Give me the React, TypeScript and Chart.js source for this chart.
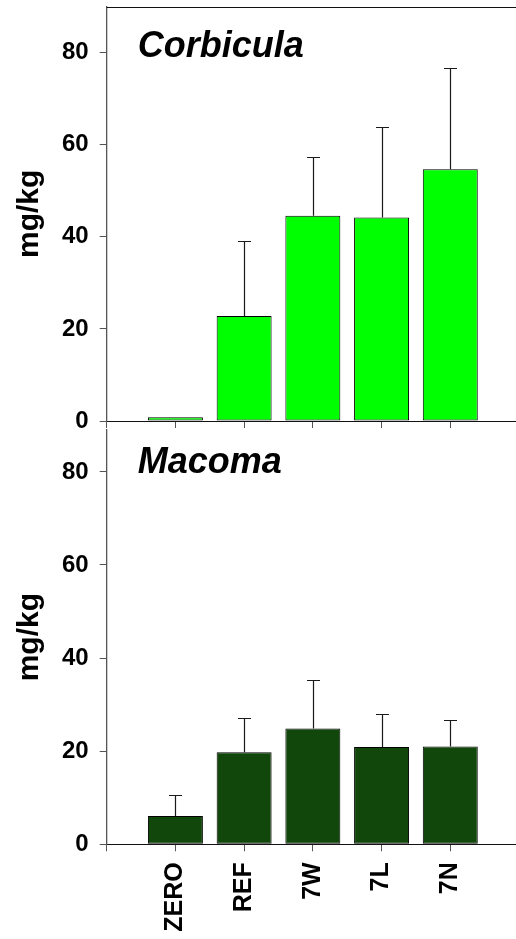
import React, { useEffect, useRef } from "react";
import { Chart, registerables } from "chart.js";

Chart.register(...registerables);

const categories = ["ZERO", "REF", "7W", "7L", "7N"];
const positions = [1, 2, 3, 4, 5];
const corbiculaMeans = [0.8, 22.8, 44.6, 44.2, 54.7];
const corbiculaErrors = [0, 16.3, 12.7, 19.6, 22.0];
const macomaMeans = [6.1, 19.8, 24.9, 20.9, 21.0];
const macomaErrors = [4.5, 7.4, 10.5, 7.1, 5.8];
const yTicks = [0, 20, 40, 60, 80];

const FONT = "'Liberation Sans', Arial, Helvetica, sans-serif";

const errorBarPlugin = {
  id: "errorBars",
  afterDatasetsDraw(chart: any) {
    const { ctx } = chart;
    const xs = chart.scales.x;
    const ys = chart.scales.y;
    chart.data.datasets.forEach((ds: any) => {
      const errs = ds.errors || [];
      ds.data.forEach((pt: any, i: number) => {
        const e = errs[i];
        if (!e) return;
        const x = Math.round(xs.getPixelForValue(pt.x)) + 0.5;
        const y0 = ys.getPixelForValue(pt.y);
        const y1 = Math.round(ys.getPixelForValue(pt.y + e)) + 0.5;
        ctx.save();
        ctx.strokeStyle = "#1a1a1a";
        ctx.lineWidth = 1.2;
        ctx.beginPath();
        ctx.moveTo(x, y0);
        ctx.lineTo(x, y1);
        ctx.moveTo(x - 6.5, y1);
        ctx.lineTo(x + 6.5, y1);
        ctx.stroke();
        ctx.restore();
      });
    });
  },
};

const panelPlugin = {
  id: "panelDecor",
  afterDraw(chart: any) {
    const opts = chart.options.plugins.panelDecor || {};
    const { ctx, chartArea } = chart;
    ctx.save();
    if (opts.topBorder) {
      ctx.strokeStyle = "#111";
      ctx.lineWidth = 1;
      const y = Math.round(chartArea.top) + 0.5;
      ctx.beginPath();
      ctx.moveTo(chartArea.left, y);
      ctx.lineTo(chartArea.right, y);
      ctx.stroke();
    }
    if (opts.text) {
      ctx.fillStyle = "#000";
      ctx.font = `italic bold 36px ${FONT}`;
      ctx.textAlign = "left";
      ctx.textBaseline = "alphabetic";
      ctx.fillText(opts.text, chartArea.left + opts.dx, chartArea.top + opts.dy);
    }
    ctx.restore();
  },
};

type PanelProps = {
  top: number;
  height: number;
  padTop: number;
  xAxisHeight: number;
  yMax: number;
  means: number[];
  errors: number[];
  color: string;
  label: string;
  labelDy: number;
  showXLabels: boolean;
  topBorder: boolean;
};

function Panel(p: PanelProps) {
  const ref = useRef<HTMLCanvasElement | null>(null);
  useEffect(() => {
    if (!ref.current) return;
    const chart = new Chart(ref.current, {
      type: "bar",
      data: {
        datasets: [
          {
            data: positions.map((x, i) => ({ x, y: p.means[i] })),
            errors: p.errors,
            backgroundColor: p.color,
            borderColor: "#000",
            borderWidth: 1,
            borderSkipped: false,
            barPercentage: 0.8,
            categoryPercentage: 1,
          } as any,
        ],
      },
      options: {
        responsive: false,
        animation: false,
        devicePixelRatio: 1,
        layout: { padding: { top: p.padTop, left: 0, right: 0, bottom: 0 } },
        plugins: {
          legend: { display: false },
          tooltip: { enabled: false },
          panelDecor: { text: p.label, dx: 31, dy: p.labelDy, topBorder: p.topBorder },
        } as any,
        scales: {
          x: {
            type: "linear",
            min: 0,
            max: 6,
            offset: false,
            afterFit: (s: any) => {
              s.height = p.xAxisHeight;
              s.paddingLeft = 0;
              s.paddingRight = 0;
            },
            grid: {
              offset: false,
              drawOnChartArea: false,
              drawTicks: true,
              tickLength: 7,
              color: "#555",
            },
            border: { display: true, color: "#111", width: 1 },
            ticks: {
              display: p.showXLabels,
              stepSize: 1,
              autoSkip: false,
              maxRotation: 90,
              minRotation: 90,
              padding: 11,
              color: "#000",
              font: { family: FONT, size: 25, weight: "bold" },
              callback: (v: any) => {
                const idx = positions.indexOf(Number(v));
                return idx >= 0 ? categories[idx] : "";
              },
            },
          },
          y: {
            type: "linear",
            min: 0,
            max: p.yMax,
            afterFit: (s: any) => {
              s.width = 106.7;
              s.paddingTop = 0;
              s.paddingBottom = 0;
            },
            afterBuildTicks: (s: any) => {
              s.ticks = yTicks.map((v) => ({ value: v }));
            },
            grid: {
              drawOnChartArea: false,
              drawTicks: true,
              tickLength: 7,
              color: "#555",
            },
            border: { display: true, color: "#555", width: 1.3 },
            ticks: {
              padding: 11,
              color: "#000",
              font: { family: FONT, size: 24, weight: "bold" },
            },
            title: {
              display: true,
              text: "mg/kg",
              color: "#000",
              padding: { top: 12, bottom: 0 },
              font: { family: FONT, size: 30, weight: "bold" },
            },
          },
        },
      },
      plugins: [errorBarPlugin, panelPlugin],
    });
    return () => chart.destroy();
  }, []);
  return (
    <canvas
      ref={ref}
      width={519}
      height={p.height}
      style={{ position: "absolute", left: 0, top: p.top, width: 519, height: p.height }}
    />
  );
}

export default function App() {
  return (
    <div
      style={{
        position: "absolute",
        left: 0,
        top: 0,
        width: 516,
        height: 939,
        overflow: "hidden",
        background: "#fff",
      }}
    >
      <Panel
        top={0}
        height={430}
        padTop={6.7}
        xAxisHeight={9}
        yMax={90}
        means={corbiculaMeans}
        errors={corbiculaErrors}
        color="#00ff00"
        label="Corbicula"
        labelDy={50}
        showXLabels={false}
        topBorder={true}
      />
      <Panel
        top={425}
        height={514}
        padTop={5}
        xAxisHeight={94.7}
        yMax={89}
        means={macomaMeans}
        errors={macomaErrors}
        color="#11470a"
        label="Macoma"
        labelDy={42.7}
        showXLabels={true}
        topBorder={false}
      />
    </div>
  );
}
